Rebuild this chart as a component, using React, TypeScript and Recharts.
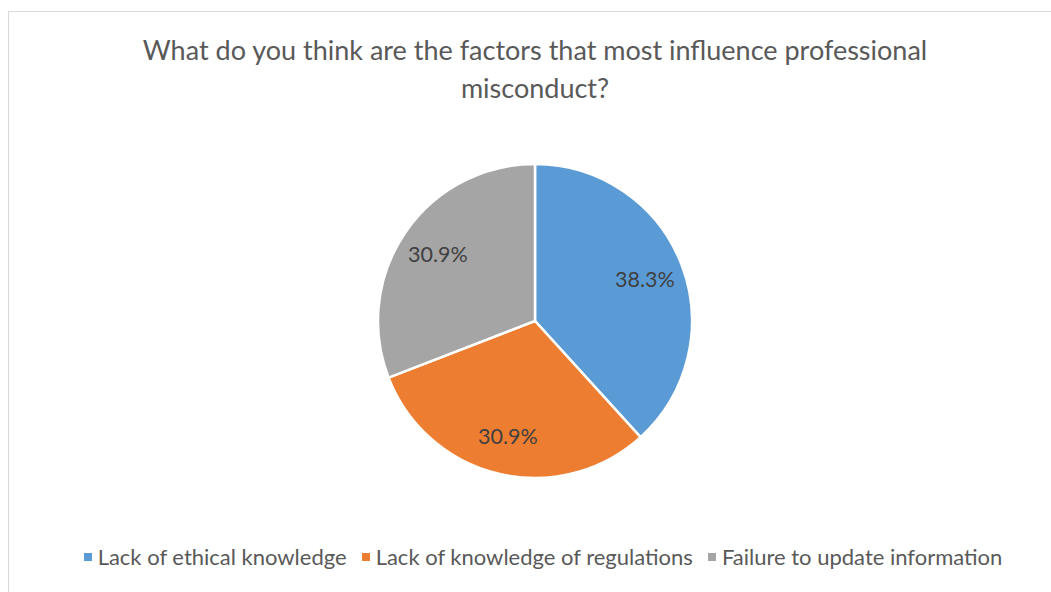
import { PieChart, Pie, Cell, Legend } from 'recharts';

const categories = ['Lack of ethical knowledge', 'Lack of knowledge of regulations', 'Failure to update information'];
const shares = [38.3, 30.9, 30.9];
const colors = ['#5B9BD5', '#ED7D31', '#A5A5A5'];
const titleLines = ['What do you think are the factors that most influence professional', 'misconduct?'];

const font = 'Lato, sans-serif';
const data = categories.map((name, i) => ({ name, value: shares[i] }));
const RAD = Math.PI / 180;

function renderLabel(props: any) {
  const { cx, cy, midAngle, outerRadius, value } = props;
  const r = outerRadius * 0.75;
  const x = cx + r * Math.cos(-midAngle * RAD);
  const y = cy + r * Math.sin(-midAngle * RAD);
  return (
    <text x={x} y={y} textAnchor="middle" dominantBaseline="central" fill="#404040" fontSize={21.5} fontFamily={font}>
      {`${value.toFixed(1)}%`}
    </text>
  );
}

function LegendContent() {
  return (
    <div style={{ display: 'flex', justifyContent: 'center', gap: 15, fontFamily: font, fontSize: 22, color: '#595959' }}>
      {categories.map((name, i) => (
        <div key={name} style={{ display: 'flex', alignItems: 'center' }}>
          <span style={{ width: 8, height: 8, background: colors[i], marginRight: 6, display: 'inline-block' }} />
          <span>{name}</span>
        </div>
      ))}
    </div>
  );
}

export default function App() {
  return (
    <div style={{ position: 'absolute', left: 0, top: 0, width: 1051, height: 592, background: '#fff', overflow: 'hidden' }}>
      <div style={{ position: 'absolute', left: 8, top: 11, width: 1100, height: 700, border: '1px solid #d9d9d9' }} />
      <div style={{ position: 'absolute', left: 0, top: 31, width: 1070, textAlign: 'center', fontFamily: font, fontSize: 27, lineHeight: '38px', color: '#595959' }}>
        {titleLines.map((line) => <div key={line}>{line}</div>)}
      </div>
      <div style={{ position: 'absolute', left: 0, top: 0 }}>
        <PieChart width={1051} height={592} margin={{ top: 0, right: 0, bottom: 0, left: 0 }}>
          <Pie data={data} dataKey="value" nameKey="name" cx={535} cy={321} outerRadius={157} startAngle={90} endAngle={-270}
            stroke="#fff" strokeWidth={2.5} label={renderLabel} labelLine={false} isAnimationActive={false}>
            {data.map((d, i) => <Cell key={d.name} fill={colors[i]} />)}
          </Pie>
          <Legend verticalAlign="bottom" content={<LegendContent />} wrapperStyle={{ bottom: 22, left: 0, width: 1086 }} />
        </PieChart>
      </div>
    </div>
  );
}
